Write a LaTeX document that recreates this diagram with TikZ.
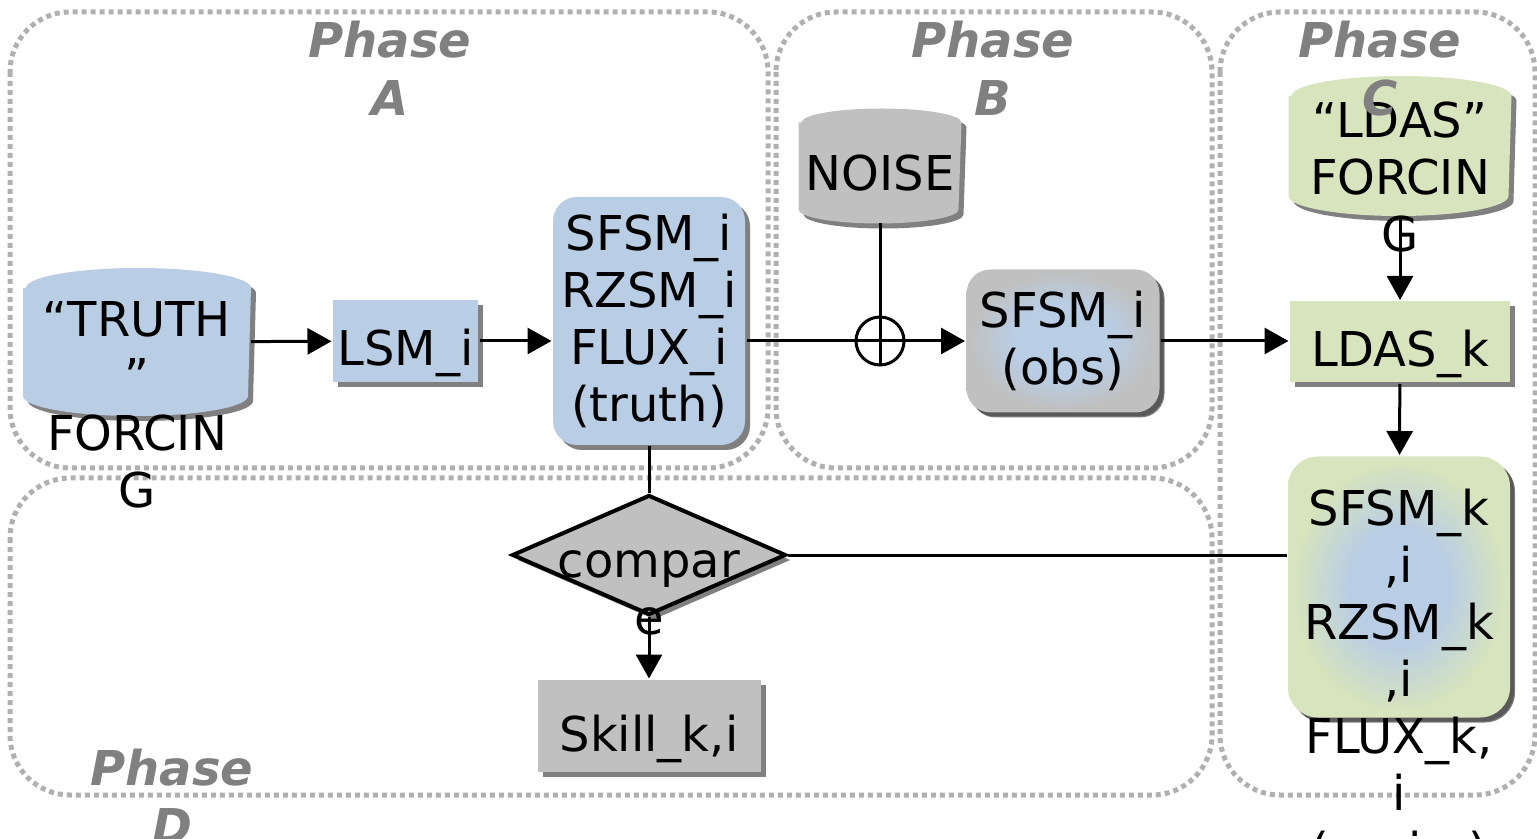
\documentclass[tikz,border=0pt]{standalone}
\usepackage{fontspec}
\setmainfont{DejaVu Sans}
\usetikzlibrary{shapes.geometric,shadows,arrows.meta,positioning}
\definecolor{boxblue}{HTML}{B9CDE5}
\definecolor{boxgreen}{HTML}{D7E4BD}
\definecolor{boxgray}{HTML}{C0C0C0}
\definecolor{shadowgray}{HTML}{808080}
\definecolor{phasegray}{HTML}{B0B0B0}
\pgfdeclareradialshading{bluegray}{\pgfpointorigin}{color(0bp)=(boxblue); color(13bp)=(boxblue); color(24bp)=(boxgray); color(50bp)=(boxgray)}
\pgfdeclareradialshading{bluegreen}{\pgfpointorigin}{color(0bp)=(boxblue); color(11bp)=(boxblue); color(24bp)=(boxgreen); color(50bp)=(boxgreen)}
% cylinder drawn round an empty node: name, colour, half width, end depth
\newcommand{\dbshape}[4]{%
	\fill[#2,flat shadow]([yshift=-#4]#1.north west)--([yshift=#4]#1.south west)
		arc[start angle=180,end angle=360,x radius=#3,y radius=#4]--([yshift=-#4]#1.north east)
		arc[start angle=0,end angle=180,x radius=#3,y radius=#4]--cycle;}
\begin{document}
\begin{tikzpicture}[x=0.5pt,y=-0.5pt,line width=1.5pt,>={Triangle[length=12pt,width=13pt]},
	font=\fontsize{24}{28.5}\selectfont]
	\tikzstyle{phase}=[draw=phasegray,line width=2.5pt,dash pattern=on 2.5pt off 2pt,rounded corners=30pt]
	\tikzstyle{phase label}=[text=shadowgray,font=\fontsize{24}{29}\selectfont\bfseries\itshape,align=center,anchor=north,inner sep=0pt]
	\tikzstyle{flat shadow}=[drop shadow={shadow xshift=2.5pt,shadow yshift=-2.5pt,fill=shadowgray,opacity=1}]
	\tikzstyle{soft shadow}=[drop shadow={shadow xshift=2pt,shadow yshift=-2pt,fill=black,opacity=0.3}]
	\tikzstyle{box}=[rectangle,inner sep=0pt,flat shadow]
	\tikzstyle{low text}=[text height=25pt,text depth=0pt]
	\tikzstyle{db}=[rectangle,inner sep=0pt]
	\tikzstyle{spill}=[align=center,anchor=north,inner sep=0pt]
	\useasboundingbox (0,0) rectangle (1537,839);
	\clip (0,0) rectangle (1537,839);
	% phase areas
	\draw[phase] (10,12) rectangle (768,468);
	\draw[phase] (776,12) rectangle (1212,468);
	\draw[phase] (1220,12) rectangle (1535,795);
	\draw[phase] (10,478) rectangle (1212,795);
	% phase A
	\node(truthdb)[db,minimum width=112.5pt,minimum height=72.5pt] at (137,342){};
	\dbshape{truthdb}{boxblue}{56.25pt}{10pt}
	\node[spill] at (137,300){“TRUTH\\”\\FORCIN\\G};
	\node(lsm)[box,low text,fill=boxblue,minimum width=72.5pt,minimum height=41pt] at (405.5,341){LSM\_i};
	\node(truth)[box,fill=boxblue,rounded corners=12pt,minimum width=96pt,minimum height=124pt,align=center] at (649,321){SFSM\_i\\RZSM\_i\\FLUX\_i\\(truth)};
	% phase B
	\node(noise)[db,minimum width=80pt,minimum height=56pt] at (880,166){};
	\dbshape{noise}{boxgray}{40pt}{7pt}
	\node at (880,173){NOISE};
	\node(plus)[circle,draw,inner sep=0pt,minimum size=24pt] at (880,341){};
	\node(obs)[box,soft shadow,rounded corners=12pt,shading=bluegray,minimum width=96.5pt,minimum height=71.5pt,align=center] at (1063,341){SFSM\_i\\(obs)};
	% phase C
	\node(ldasdb)[db,minimum width=110pt,minimum height=68.5pt] at (1400,146){};
	\dbshape{ldasdb}{boxgreen}{55pt}{10pt}
	\node[spill] at (1400,100){“LDAS”\\FORCIN\\G};
	\node(ldas)[box,low text,fill=boxgreen,minimum width=110pt,minimum height=40.5pt] at (1400,342){LDAS\_k};
	\node(result)[box,soft shadow,rounded corners=15pt,shading=bluegreen,minimum width=111pt,minimum height=130.5pt] at (1399,587){};
	\node[spill] at (1399,488){SFSM\_k\\,i\\RZSM\_k\\,i\\FLUX\_k,\\i\\(assim)};
	% phase D
	\node(cmp)[diamond,draw,line width=2pt,fill=boxgray,inner sep=0pt,aspect=2.3,minimum width=137pt,minimum height=60pt,flat shadow] at (649,555){};
	\node[spill] at (649,549){compar\\e};
	\node(skill)[box,low text,fill=boxgray,minimum width=111.5pt,minimum height=46pt] at (649,726){Skill\_k,i};
	% connectors
	\draw[->](truthdb)--(lsm);
	\draw[->](lsm)--(lsm-|truth.west);
	\draw(truth.east|-plus)--(plus.east);
	\draw[->](plus.east)--(plus-|obs.west);
	\draw(noise)--(plus.south);
	\draw[->](obs)--(obs-|ldas.west);
	\draw[->](ldasdb)--(ldas);
	\draw[->](ldas)--(result);
	\draw(truth)--(cmp);
	\draw(cmp.east)--(cmp.east-|result.west);
	\draw[->](cmp)--(skill);
	% phase labels
	\node[phase label] at (390,20){Phase\\A};
	\node[phase label] at (993,20){Phase\\B};
	\node[phase label] at (1380,20){Phase\\C};
	\node[phase label] at (172,748){Phase\\D};
\end{tikzpicture}
\end{document}
